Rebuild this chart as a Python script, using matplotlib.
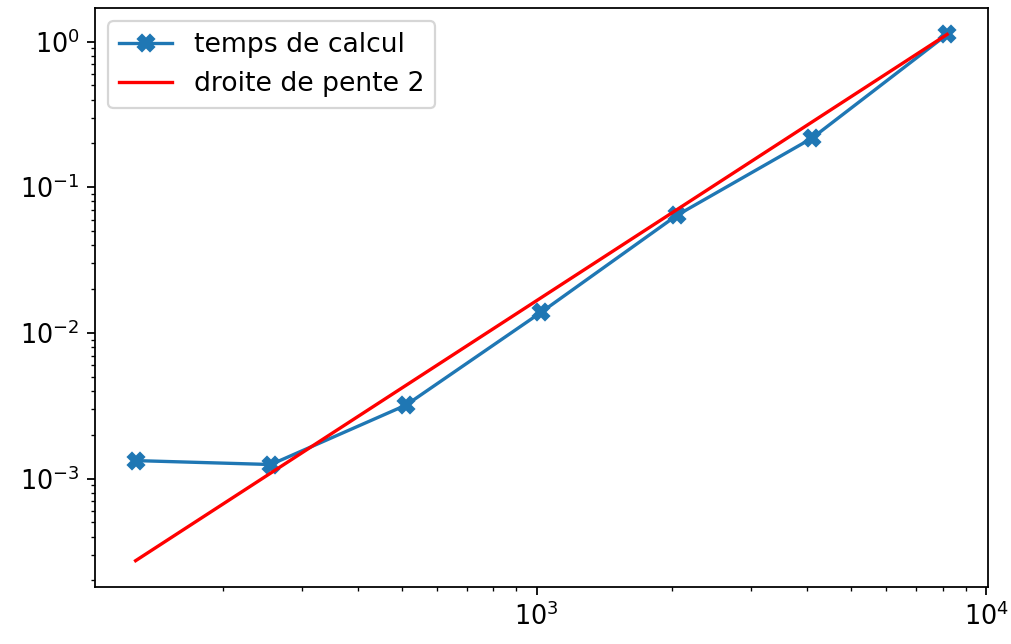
import numpy as np
import matplotlib
matplotlib.use("Agg")
import matplotlib.pyplot as plt

# tailles testées et temps mesurés (secondes)
n = np.array([128, 256, 512, 1024, 2048, 4096, 8192])
temps = np.array([1.33e-3, 1.25e-3, 3.2e-3, 1.39e-2, 6.4e-2, 0.217, 1.12])

# droite de pente 2 passant par le dernier point
droite = temps[-1] * (n / n[-1]) ** 2

plt.rcParams['xtick.labelsize'] = 11.5
plt.rcParams['ytick.labelsize'] = 11.5

fig = plt.figure(figsize=(1011 / 160, 644 / 160), dpi=160)
ax = fig.add_axes([0.094, 0.0885, 0.883, 0.899])

ax.loglog(n, temps, marker='X', markersize=7.5, label='temps de calcul')
ax.loglog(n, droite, color='r', label='droite de pente 2')
ax.legend(loc='upper left', fontsize=12)

fig.savefig('out.png', dpi=160)
